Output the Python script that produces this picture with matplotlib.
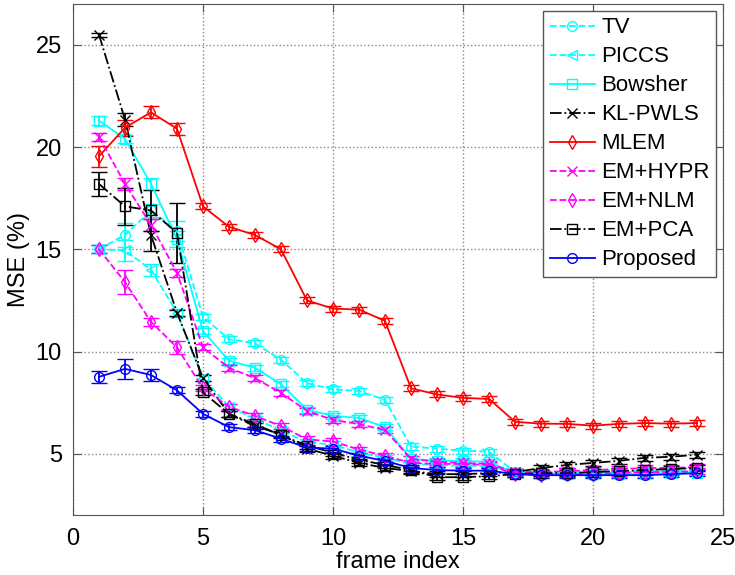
import numpy as np
import matplotlib
matplotlib.use('Agg')
import matplotlib.pyplot as plt

# frame index 1..24
frames = np.arange(1, 25)

# MSE (%) per method
tv = [15.0, 15.7, 16.9, 15.9, 11.7, 10.6, 10.4, 9.6, 8.45, 8.15, 8.07, 7.63,
      5.35, 5.25, 5.15, 5.1, 4.1, 4.0, 4.05, 4.05, 4.1, 4.1, 4.1, 4.1]
piccs = [15.0, 14.95, 14.0, 11.9, 8.7, 7.3, 6.7, 6.15, 5.55, 5.45, 5.05, 4.8,
         4.5, 4.45, 4.4, 4.4, 4.1, 4.1, 4.1, 4.1, 4.15, 4.15, 4.15, 4.15]
bowsher = [21.3, 20.4, 18.2, 15.5, 11.0, 9.55, 9.2, 8.4, 7.15, 6.85, 6.75, 6.3,
           4.75, 4.65, 4.65, 4.6, 4.05, 4.0, 4.0, 4.0, 4.0, 4.0, 4.05, 4.05]
kl_pwls = [25.5, 21.35, 15.7, 11.9, 8.7, 6.95, 6.35, 5.95, 5.25, 4.9, 4.55, 4.3,
           4.15, 4.0, 4.0, 4.05, 4.1, 4.3, 4.45, 4.55, 4.65, 4.8, 4.85, 4.95]
mlem = [19.55, 20.95, 21.7, 20.9, 17.1, 16.1, 15.7, 15.0, 12.5, 12.1, 12.05, 11.5,
        8.2, 7.9, 7.73, 7.68, 6.56, 6.47, 6.46, 6.37, 6.46, 6.5, 6.47, 6.5]
em_hypr = [20.5, 18.2, 16.2, 13.85, 10.2, 9.2, 8.7, 7.97, 7.1, 6.65, 6.45, 6.15,
           4.75, 4.6, 4.55, 4.5, 4.1, 4.1, 4.15, 4.2, 4.25, 4.3, 4.3, 4.35]
em_nlm = [15.0, 13.4, 11.45, 10.2, 8.2, 7.3, 6.85, 6.35, 5.7, 5.6, 5.2, 4.9,
          4.55, 4.5, 4.5, 4.45, 4.0, 3.95, 4.0, 4.0, 4.05, 4.1, 4.1, 4.15]
em_pca = [18.2, 17.1, 16.9, 15.8, 8.0, 6.95, 6.45, 5.9, 5.4, 5.05, 4.7, 4.45,
          4.2, 3.85, 3.85, 3.9, 4.0, 4.05, 4.05, 4.1, 4.15, 4.2, 4.25, 4.3]
proposed = [8.76, 9.15, 8.85, 8.1, 6.95, 6.3, 6.15, 5.73, 5.3, 5.25, 4.9, 4.65,
            4.3, 4.2, 4.17, 4.17, 4.0, 3.95, 3.95, 3.95, 3.95, 3.95, 4.0, 4.05]

# error bar half-lengths
tv_err = [0.2, 0.6, 0.3, 0.5] + [0.15] * 20
piccs_err = [0.2, 0.5, 0.3, 0.2] + [0.15] * 20
bowsher_err = [0.2, 0.2, 0.3, 0.4] + [0.15] * 20
kl_err = [0.1, 0.3, 0.8, 0.15] + [0.15] * 20
mlem_err = [0.5, 0.4, 0.3, 0.3] + [0.15] * 20
hypr_err = [0.2, 0.3, 0.3, 0.2] + [0.15] * 20
nlm_err = [0.2, 0.6, 0.2, 0.3] + [0.15] * 20
pca_err = [0.6, 0.9, 1.0, 1.45] + [0.15] * 20
prop_err = [0.3, 0.5, 0.3, 0.15] + [0.15] * 20

labels = ['TV', 'PICCS', 'Bowsher', 'KL-PWLS', 'MLEM', 'EM+HYPR', 'EM+NLM',
          'EM+PCA', 'Proposed']
series = [tv, piccs, bowsher, kl_pwls, mlem, em_hypr, em_nlm, em_pca, proposed]
errors = [tv_err, piccs_err, bowsher_err, kl_err, mlem_err, hypr_err, nlm_err,
          pca_err, prop_err]
colors = ['#00ffff', '#00ffff', '#00ffff', 'black', '#ff0000', '#ff00ff',
          '#ff00ff', 'black', '#0000ff']
styles = ['--', '--', '-', '-.', '-', '--', '--', '-.', '-']
markers = ['o', '<', 's', 'x', 'd', 'x', 'd', 's', 'o']

plt.rcParams['font.family'] = ['Liberation Sans', 'DejaVu Sans']
plt.rcParams['font.size'] = 16

fig = plt.figure(figsize=(7.35, 5.75), dpi=100)
ax = fig.add_axes([0.0993, 0.1043, 0.8844, 0.8887])

handles = []
for y, e, c, ls, m, lab in zip(series, errors, colors, styles, markers, labels):
    eb = ax.errorbar(frames, y, yerr=e, color=c, ls=ls, lw=1.3, marker=m, ms=7,
                     mfc='none', mec=c, mew=1.0, capsize=6, elinewidth=1.3,
                     capthick=1.3)
    eb.lines[0].set_label(lab)
    handles.append(eb.lines[0])

ax.set_xlim(0, 25)
ax.set_ylim(2, 27)
ax.set_xticks([0, 5, 10, 15, 20, 25])
ax.set_yticks([5, 10, 15, 20, 25])
ax.grid(True, ls=':', color='#888888', lw=1.0)
ax.tick_params(direction='in', top=True, right=True, length=6, color='#555555',
               labelsize=17)
ax.tick_params(axis='x', pad=9)
ax.tick_params(axis='y', pad=8)
for s in ax.spines.values():
    s.set_color('#555555')
ax.set_xlabel('frame index', fontsize=17, labelpad=1)
ax.set_ylabel('MSE (%)', fontsize=17, labelpad=4)

leg = ax.legend(handles=handles, loc='upper right', fontsize=16, fancybox=False,
                edgecolor='#555555', framealpha=1, labelspacing=0.36,
                handlelength=2.0, handletextpad=0.3, borderpad=0.3,
                borderaxespad=0.3)
leg.get_frame().set_linewidth(1.0)

fig.savefig('out.png', dpi=100)
